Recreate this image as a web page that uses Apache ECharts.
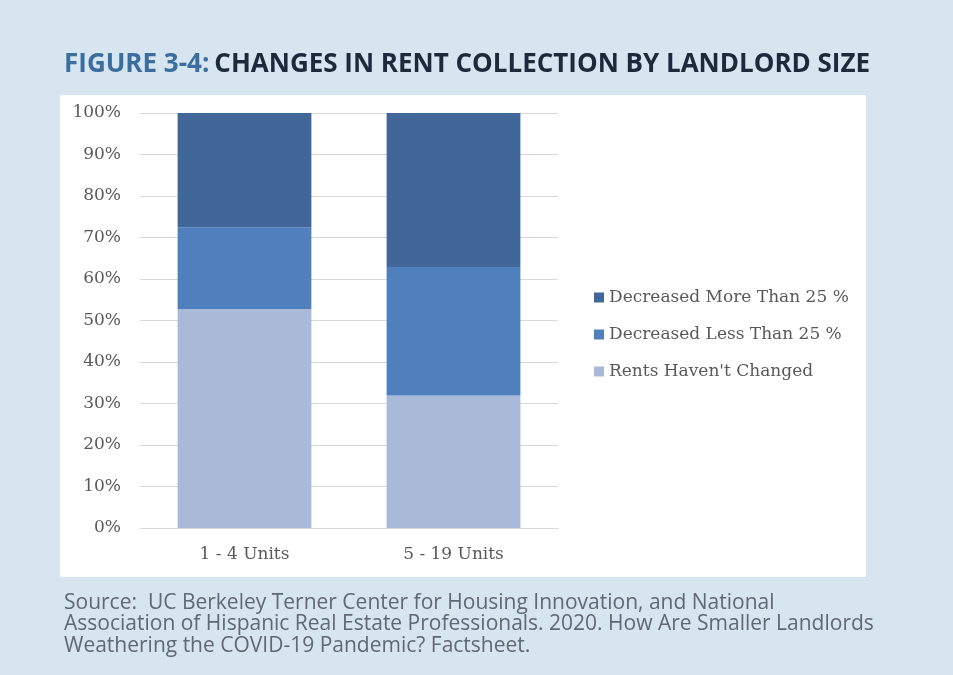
<!DOCTYPE html>
<html>
<head>
<meta charset="utf-8">
<script src="https://cdn.jsdelivr.net/npm/echarts@6/dist/echarts.min.js"></script>
<style>
  html, body { margin: 0; padding: 0; background: #d6e5ef; }
  #chart { width: 953px; height: 675px; }
</style>
</head>
<body>
<div id="chart"></div>
<script>
// categories and stacked shares (percent)
var categories = ['1 - 4 Units', '5 - 19 Units']
var seriesNames = ['Rents Haven\'t Changed', 'Decreased Less Than 25 %', 'Decreased More Than 25 %']
var notChanged = [52.8, 31.9]
var lessThan25 = [19.7, 31.0]
var moreThan25 = [27.5, 37.1]
var seriesColors = ['#a9b9d8', '#4f80bd', '#41679a']

var serifFont = 'DejaVu Serif'
var chart = echarts.init(document.getElementById('chart'))

var option = {
    backgroundColor: '#d6e5ef',
    animation: false,
    title: {
        left: 59,
        top: 47,
        text: '{a|FIGURE 3-4:} {b|CHANGES IN RENT COLLECTION BY LANDLORD SIZE}',
        textStyle: {
            rich: {
                a: { fontFamily: 'Open Sans', fontWeight: 'bold', fontSize: 26, color: '#3b6e9e' },
                b: { fontFamily: 'Open Sans', fontWeight: 'bold', fontSize: 26, color: '#1c2a3b' }
            }
        }
    },
    graphic: [
        {
            type: 'rect',
            z: -10,
            shape: { x: 60, y: 95, width: 806, height: 482 },
            style: { fill: '#ffffff' }
        },
        {
            type: 'text',
            left: 64,
            top: 592,
            style: {
                text: 'Source:  UC Berkeley Terner Center for Housing Innovation, and National\nAssociation of Hispanic Real Estate Professionals. 2020. How Are Smaller Landlords\nWeathering the COVID-19 Pandemic? Factsheet.',
                fontFamily: 'Open Sans',
                fontSize: 21,
                lineHeight: 21.5,
                fill: '#616873'
            }
        }
    ],
    legend: {
        orient: 'vertical',
        left: 594,
        top: 289,
        padding: 0,
        itemWidth: 10,
        itemHeight: 10,
        itemGap: 20,
        icon: 'rect',
        data: [seriesNames[2], seriesNames[1], seriesNames[0]],
        textStyle: { fontFamily: serifFont, fontSize: 17, color: '#595959' }
    },
    grid: { left: 140, right: 395, top: 113, bottom: 147 },
    xAxis: {
        type: 'category',
        data: categories,
        axisLine: { lineStyle: { color: '#d9d9d9' } },
        axisTick: { show: false },
        axisLabel: { fontFamily: serifFont, fontSize: 17, color: '#595959', margin: 18 }
    },
    yAxis: {
        type: 'value',
        min: 0,
        max: 100,
        interval: 10,
        axisLine: { show: false },
        axisTick: { show: false },
        splitLine: { lineStyle: { color: '#d9d9d9' } },
        axisLabel: { formatter: '{value}%', fontFamily: serifFont, fontSize: 17, color: '#595959', margin: 19 }
    },
    series: [
        { name: seriesNames[0], type: 'bar', stack: 'all', data: notChanged, barCategoryGap: '36%', itemStyle: { color: seriesColors[0] } },
        { name: seriesNames[1], type: 'bar', stack: 'all', data: lessThan25, itemStyle: { color: seriesColors[1] } },
        { name: seriesNames[2], type: 'bar', stack: 'all', data: moreThan25, itemStyle: { color: seriesColors[2] } }
    ]
}
chart.setOption(option)
</script>
</body>
</html>
